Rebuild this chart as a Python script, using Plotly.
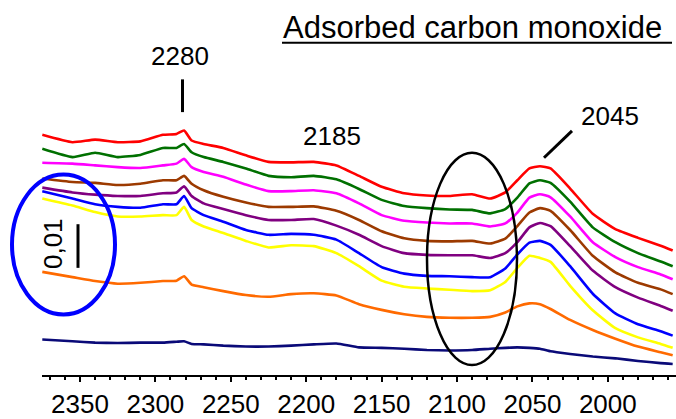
import plotly.graph_objects as go

# Wavenumbers (cm-1) at which the spectra were read
wavenumber = [2375, 2355, 2340, 2325, 2310, 2295, 2286, 2281, 2276, 2268,
              2255, 2240, 2225, 2210, 2195, 2180, 2165, 2150, 2135, 2120,
              2105, 2090, 2078, 2068, 2060, 2052, 2045, 2038, 2025, 2010,
              1995, 1980, 1965, 1957]

# Absorbance (x 10^-3, offset spectra)
red = [53.2, 51.5, 52.1, 51.5, 51.7, 53.2, 53.4, 54.2, 51.9, 51.1,
       50.2, 48.5, 47.0, 46.9, 47.0, 46.2, 43.8, 41.3, 39.8, 39.3,
       39.2, 39.6, 38.6, 40.0, 42.8, 45.5, 46.0, 45.5, 40.9, 35.1,
       31.6, 29.6, 27.8, 26.7]
green = [50.0, 48.1, 49.1, 48.1, 48.6, 50.2, 50.2, 51.1, 49.2, 48.1,
         47.0, 45.5, 43.8, 43.5, 43.8, 43.0, 40.8, 38.3, 36.9, 36.4,
         36.1, 36.0, 35.2, 36.2, 38.8, 42.1, 42.8, 42.2, 37.9, 32.0,
         28.6, 26.1, 24.2, 23.1]
magenta = [46.8, 46.6, 46.2, 45.8, 45.6, 46.2, 46.6, 47.7, 45.8, 44.7,
           43.6, 41.8, 40.3, 40.3, 40.5, 39.8, 37.5, 34.8, 33.5, 33.1,
           32.9, 32.9, 32.2, 32.9, 35.4, 38.8, 39.6, 38.9, 34.5, 28.6,
           25.2, 22.9, 21.2, 20.1]
brown = [43.2, 42.4, 42.2, 41.7, 42.0, 42.8, 42.8, 43.8, 42.0, 40.5,
         39.0, 37.7, 36.7, 36.7, 36.8, 35.8, 33.7, 31.1, 29.5, 28.9,
         28.8, 28.9, 28.3, 29.4, 32.3, 35.4, 36.4, 35.8, 31.4, 25.5,
         21.7, 19.3, 17.8, 16.7]
purple = [41.1, 40.0, 39.5, 39.2, 39.2, 39.8, 40.0, 41.4, 39.2, 37.5,
          36.2, 34.8, 33.7, 33.7, 33.9, 32.4, 30.3, 27.7, 26.1, 25.7,
          25.6, 25.6, 25.0, 26.1, 28.6, 32.0, 33.0, 32.3, 27.7, 22.1,
          18.3, 15.9, 14.0, 12.9]
blue = [40.3, 38.6, 37.3, 36.7, 36.5, 37.3, 37.3, 39.2, 36.4, 34.8,
        33.3, 31.4, 30.3, 30.5, 30.3, 29.2, 26.1, 22.9, 21.4, 20.9,
        20.8, 20.6, 20.6, 22.6, 25.8, 28.5, 28.9, 28.0, 23.1, 16.8,
        12.3, 9.8, 8.2, 7.2]
yellow = [38.6, 37.0, 35.5, 34.5, 34.5, 34.8, 34.8, 36.7, 33.7, 32.2,
          30.7, 28.9, 27.4, 27.9, 27.7, 26.1, 23.1, 19.8, 18.4, 18.0,
          17.7, 17.4, 17.6, 19.5, 22.7, 25.5, 25.0, 24.1, 18.6, 13.0,
          8.9, 6.8, 5.3, 4.4]
orange = [21.8, 20.6, 19.7, 19.1, 19.3, 19.7, 19.8, 20.8, 18.9, 18.3,
          17.4, 16.5, 16.1, 16.7, 16.9, 16.4, 14.4, 13.1, 12.1, 11.5,
          11.3, 11.3, 11.5, 12.5, 13.9, 14.6, 14.4, 13.3, 10.8, 8.5,
          6.5, 4.7, 3.4, 2.7]
navy = [6.3, 5.9, 5.6, 5.5, 5.6, 5.6, 5.8, 5.9, 5.3, 5.2,
        4.9, 4.7, 4.7, 4.9, 5.2, 5.4, 4.5, 4.4, 4.2, 3.9,
        3.8, 3.9, 4.2, 4.4, 4.5, 4.4, 4.2, 3.6, 3.0, 2.4,
        2.0, 1.4, 0.9, 0.7]

series = [
    (navy, "#0A0A78"),
    (orange, "#FF6A00"),
    (yellow, "#FFFF00"),
    (blue, "#0000FF"),
    (purple, "#800080"),
    (brown, "#9C3A00"),
    (magenta, "#FF00FF"),
    (green, "#007000"),
    (red, "#FF0000"),
]

W, H = 676, 419
ML, MR, MT, MB = 42, 0, 0, 41
PW, PH = W - ML - MR, H - MT - MB


def px(x):
    return (x - ML) / PW


def py(y):
    return 1 - (y - MT) / PH


FONT = "Liberation Sans, Arial, sans-serif"

fig = go.Figure()
for vals, color in series:
    fig.add_trace(go.Scatter(
        x=wavenumber, y=vals, mode="lines",
        line=dict(color=color, width=2.6, shape="spline", smoothing=0.45),
        showlegend=False, hoverinfo="skip"))

shapes = [
    # title underline
    dict(type="line", xref="paper", yref="paper", x0=px(282), x1=px(672),
         y0=py(43), y1=py(43), line=dict(color="black", width=2)),
    # 2280 marker
    dict(type="line", xref="paper", yref="paper", x0=px(182.5), x1=px(182.5),
         y0=py(80), y1=py(113), line=dict(color="black", width=3)),
    # 2045 marker
    dict(type="line", xref="paper", yref="paper", x0=px(544), x1=px(572),
         y0=py(159), y1=py(132), line=dict(color="black", width=3)),
    # scale bar
    dict(type="line", xref="paper", yref="paper", x0=px(78), x1=px(78),
         y0=py(226), y1=py(270), line=dict(color="black", width=3)),
    # blue ellipse
    dict(type="circle", xref="paper", yref="paper", x0=px(12), x1=px(115),
         y0=py(176), y1=py(317), line=dict(color="#0000FF", width=4)),
    # black ellipse
    dict(type="circle", xref="paper", yref="paper", x0=px(427), x1=px(517),
         y0=py(154), y1=py(368), line=dict(color="black", width=2.5)),
]

annotations = [
    dict(text="Adsorbed carbon monoxide", x=px(281), y=py(28), xanchor="left",
         yanchor="middle", font=dict(size=31, family=FONT, color="black")),
    dict(text="2280", x=px(180), y=py(56), xanchor="center", yanchor="middle",
         font=dict(size=26, family=FONT, color="black")),
    dict(text="2185", x=px(331.5), y=py(137), xanchor="center", yanchor="middle",
         font=dict(size=26, family=FONT, color="black")),
    dict(text="2045", x=px(609.5), y=py(117), xanchor="center", yanchor="middle",
         font=dict(size=26, family=FONT, color="black")),
    dict(text="0,01", x=px(53), y=py(246), xanchor="center", yanchor="middle",
         textangle=-90, font=dict(size=26, family=FONT, color="black")),
]
for a in annotations:
    a.update(xref="paper", yref="paper", showarrow=False)

fig.update_layout(
    width=W, height=H,
    margin=dict(l=ML, r=MR, t=MT, b=MB, pad=0),
    paper_bgcolor="white", plot_bgcolor="white",
    shapes=shapes, annotations=annotations,
    xaxis=dict(
        range=[2375.2, 1954.8], showline=True, linecolor="black", linewidth=2,
        ticks="outside", ticklen=5, tickwidth=2, tickcolor="black",
        tick0=0, dtick=50, showgrid=False, zeroline=False,
        tickfont=dict(size=26, family=FONT, color="black"),
        minor=dict(tick0=0, dtick=10, ticks="outside", ticklen=3, tickwidth=2,
                   tickcolor="black", showgrid=False),
    ),
    yaxis=dict(range=[-1.82, 84.09], visible=False, fixedrange=True),
)

fig.write_html(
    "out.html",
    config={"displayModeBar": False, "staticPlot": True},
    post_script="document.body.style.margin='0';document.body.style.overflow='hidden';",
)
